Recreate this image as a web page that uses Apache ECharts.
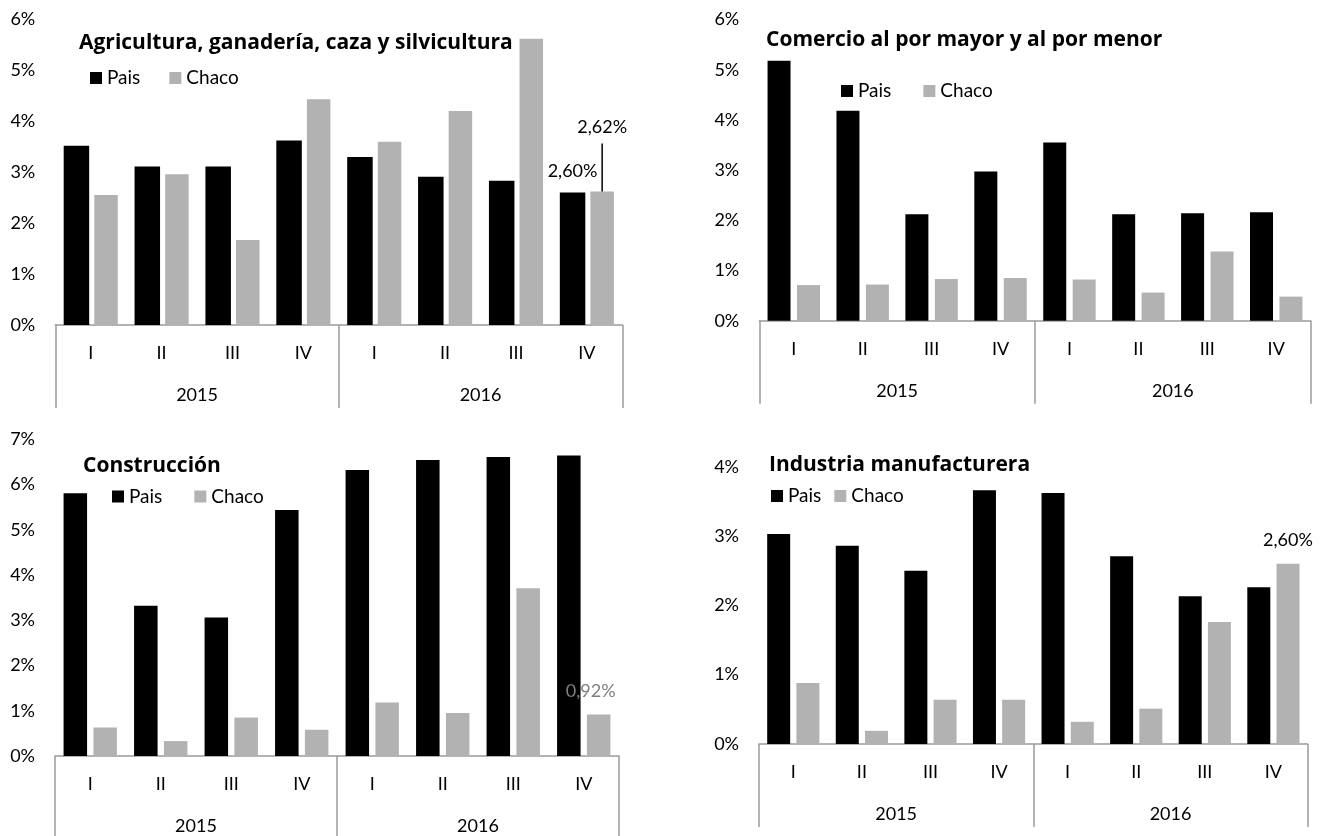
<!DOCTYPE html>
<html>
<head>
<meta charset="utf-8">
<title>Variación por sector: País y Chaco</title>
<script src="https://cdn.jsdelivr.net/npm/echarts@6/dist/echarts.min.js"></script>
<style>
  html, body { margin: 0; padding: 0; background: #ffffff; }
  #chart { width: 1328px; height: 836px; }
</style>
</head>
<body>
<div id="chart"></div>
<script>
// Trimestres y años del eje de categorías de dos niveles
const quarters = ['I', 'II', 'III', 'IV', 'I', 'II', 'III', 'IV'];
const years = ['2015', '2016'];

// Variación (%) por trimestre
const agroPais = [3.52, 3.11, 3.11, 3.62, 3.30, 2.91, 2.83, 2.60];
const agroChaco = [2.55, 2.96, 1.67, 4.43, 3.60, 4.20, 5.62, 2.62];

const comercioPais = [5.18, 4.18, 2.12, 2.97, 3.55, 2.12, 2.14, 2.16];
const comercioChaco = [0.71, 0.72, 0.83, 0.85, 0.82, 0.56, 1.38, 0.48];

const construccionPais = [5.81, 3.32, 3.06, 5.44, 6.32, 6.54, 6.61, 6.64];
const construccionChaco = [0.63, 0.33, 0.85, 0.58, 1.18, 0.95, 3.71, 0.92];

const industriaPais = [3.03, 2.86, 2.50, 3.66, 3.62, 2.71, 2.13, 2.26];
const industriaChaco = [0.88, 0.19, 0.64, 0.64, 0.32, 0.51, 1.76, 2.60];

const titles = [
  'Agricultura, ganadería, caza y silvicultura',
  'Comercio al por mayor y al por menor',
  'Construcción',
  'Industria manufacturera'
];
const yMax = [6, 6, 7, 4];

const FONT = 'Lato';
const TITLE_FONT = 'Open Sans';
const AXIS_GRAY = '#9a9a9a';
const BAR_BLACK = '#000000';
const BAR_GRAY = '#b2b2b2';

// Paneles: posición de la grilla, título y leyenda
const panels = [
  { grid: { left: 55.3, right: 705.7, top: 19.4, bottom: 511 },
    title: { left: 79, top: 31 }, legend: { left: 90, top: 68, gap: 29 },
    barPais: 25.5, barChaco: 23.5, barGap: '20%' },
  { grid: { left: 759.3, right: 17.3, top: 19.5, bottom: 515.3 },
    title: { left: 766, top: 28.3 }, legend: { left: 841, top: 81, gap: 32 },
    barPais: 23, barChaco: 23, barGap: '28%' },
  { grid: { left: 55, right: 709, top: 439.3, bottom: 80 },
    title: { left: 83, top: 453.8 }, legend: { left: 112, top: 486.5, gap: 32 },
    barPais: 23.5, barChaco: 23.5, barGap: '27%' },
  { grid: { left: 759, right: 20.3, top: 466.7, bottom: 92 },
    title: { left: 769, top: 453.5 }, legend: { left: 771, top: 486, gap: 13 },
    barPais: 23, barChaco: 23, barGap: '27%' }
];

// Formato con coma decimal: 2.6 -> "2,60%"
function pct(v) { return v.toFixed(2).replace('.', ',') + '%'; }

const labelBase = { show: true, position: 'top', fontFamily: FONT, fontSize: 18,
  lineHeight: 20, color: '#000', formatter: p => pct(p.value) };

// Etiqueta de valor sobre una barra concreta
function withLabel(values, index, label) {
  return values.map((v, i) => i === index
    ? { value: v, label: Object.assign({}, labelBase, label) }
    : v);
}

// Etiqueta elevada con línea guía vertical hasta la barra
const leaderLabel = {
  distance: 0,
  formatter: p => '{v|' + pct(p.value) + '}\n{g|}',
  rich: {
    v: { fontFamily: FONT, fontSize: 18, lineHeight: 32, color: '#000' },
    g: { width: 1.5, height: 48, lineHeight: 48, backgroundColor: '#000' }
  }
};

const grid = [], xAxis = [], yAxis = [], series = [], title = [], legend = [];

panels.forEach((p, i) => {
  grid.push(Object.assign({ containLabel: false }, p.grid));

  title.push({
    text: titles[i], left: p.title.left, top: p.title.top, padding: 0,
    textStyle: { fontFamily: TITLE_FONT, fontWeight: 'bold', fontSize: 21, lineHeight: 24, color: '#000' }
  });

  legend.push({
    data: ['Pais', 'Chaco'], left: p.legend.left, top: p.legend.top, padding: 0,
    itemWidth: 12, itemHeight: 12, itemGap: p.legend.gap, icon: 'rect',
    selectedMode: false,
    textStyle: { fontFamily: FONT, fontSize: 19, lineHeight: 20, color: '#000' }
  });

  // nivel 1: trimestres
  xAxis.push({
    type: 'category', gridIndex: i, data: quarters, position: 'bottom',
    axisLine: { show: true, lineStyle: { color: AXIS_GRAY, width: 1.5 } },
    axisTick: { show: false },
    axisLabel: { interval: 0, margin: 18.5, fontFamily: FONT, fontSize: 18, lineHeight: 20, color: '#000' },
    splitLine: { show: false }
  });
  // nivel 2: años, con separadores verticales
  xAxis.push({
    type: 'category', gridIndex: i, data: years, position: 'bottom',
    axisLine: { show: false },
    axisTick: { show: true, interval: 0, length: 83, lineStyle: { color: AXIS_GRAY, width: 1.5 } },
    axisLabel: { interval: 0, margin: 60, fontFamily: FONT, fontSize: 18, lineHeight: 20, color: '#000' },
    splitLine: { show: false }
  });

  yAxis.push({
    type: 'value', gridIndex: i, min: 0, max: yMax[i], interval: 1,
    axisLine: { show: false }, axisTick: { show: false }, splitLine: { show: false },
    axisLabel: { margin: 20, formatter: '{value}%', fontFamily: FONT, fontSize: 18, color: '#000' }
  });
});

// Series de cada panel, con las etiquetas del último trimestre
const paisData = [
  withLabel(agroPais, 7, { distance: 11.7 }),
  comercioPais,
  construccionPais,
  industriaPais
];
const chacoData = [
  withLabel(agroChaco, 7, leaderLabel),
  comercioChaco,
  withLabel(construccionChaco, 7, { distance: 13, offset: [-8, 0], color: '#7f7f7f' }),
  withLabel(industriaChaco, 7, { distance: 13.7 })
];

panels.forEach((p, i) => {
  series.push({
    name: 'Pais', type: 'bar', xAxisIndex: 2 * i, yAxisIndex: i,
    data: paisData[i], barWidth: p.barPais, barGap: p.barGap,
    itemStyle: { color: BAR_BLACK }
  });
  series.push({
    name: 'Chaco', type: 'bar', xAxisIndex: 2 * i, yAxisIndex: i,
    data: chacoData[i], barWidth: p.barChaco, barGap: p.barGap,
    itemStyle: { color: BAR_GRAY }
  });
});

const chart = echarts.init(document.getElementById('chart'), null, { renderer: 'canvas' });
chart.setOption({
  animation: false,
  backgroundColor: '#ffffff',
  textStyle: { fontFamily: FONT },
  title, legend, grid, xAxis, yAxis, series
});
</script>
</body>
</html>
